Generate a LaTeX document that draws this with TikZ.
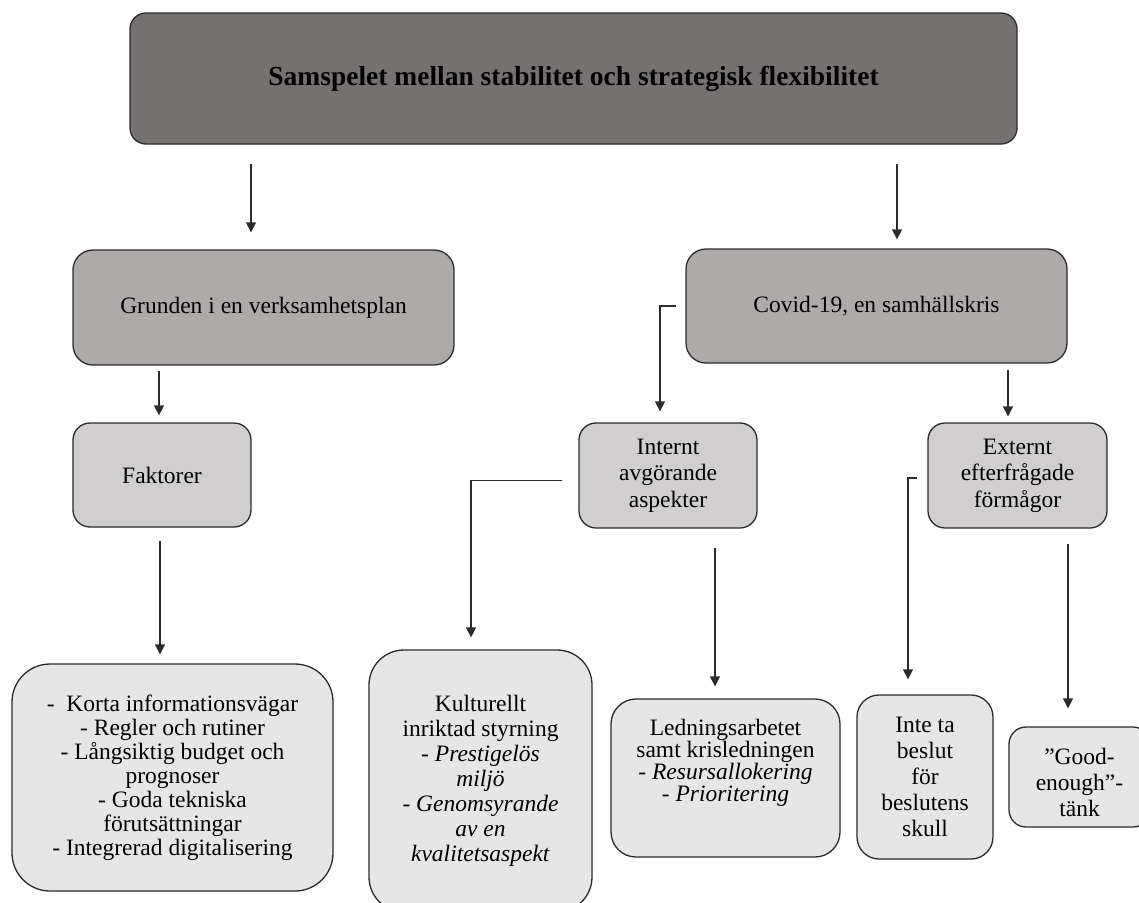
\documentclass[tikz,border=0pt]{standalone}
\usepackage{fontspec}
\setmainfont{Liberation Serif}
\usetikzlibrary{arrows.meta}
\definecolor{cone}{HTML}{767171}
\definecolor{ctwo}{HTML}{AEAAAA}
\definecolor{cthree}{HTML}{D0CECE}
\definecolor{cfour}{HTML}{E7E6E6}
\definecolor{edge}{HTML}{2B2B2B}
\begin{document}
\begin{tikzpicture}[x=1pt,y=-1pt,
  box/.style={draw=edge, line width=1.3pt, rectangle, align=center, inner sep=2pt, text=black},
  fs/.style={font=\fontsize{23.5}{#1}\selectfont},
  arr/.style={draw=edge, line width=1.3pt, -{Triangle[width=10pt,length=10pt]}},
]
\useasboundingbox (0,0) rectangle (1139,902);
\node[box, fill=cone, rounded corners=16pt, minimum width=887pt, minimum height=131pt, font=\bfseries\fontsize{27.5}{32}\selectfont] (top) at (573.5,78.5) {Samspelet mellan stabilitet och strategisk flexibilitet};
\node[box, fill=ctwo, rounded corners=20pt, minimum width=381pt, minimum height=115pt, fs=28] (grunden) at (263.5,307.5) {Grunden i en verksamhetsplan};
\node[box, fill=ctwo, rounded corners=20pt, minimum width=381pt, minimum height=114pt, fs=28] (covid) at (876.5,306) {Covid-19, en samhällskris};
\node[box, fill=cthree, rounded corners=17pt, minimum width=178pt, minimum height=104pt, fs=28] (faktorer) at (162,475) {Faktorer};
\node[box, fill=cthree, rounded corners=17pt, minimum width=178pt, minimum height=105pt, fs=26.5] (internt) at (668,475.5) {Internt\\ avgörande\\ aspekter};
\node[box, fill=cthree, rounded corners=17pt, minimum width=179pt, minimum height=105pt, fs=26.5] (externt) at (1017.5,475.5) {Externt\\ efterfrågade\\ förmågor};
\node[box, fill=cfour, rounded corners=38pt, minimum width=321pt, minimum height=227pt, fs=24] (list) at (172.5,777.5) {-~ Korta informationsvägar\\ - Regler och rutiner\\ - Långsiktig budget och\\ prognoser\\ - Goda tekniska\\ förutsättningar\\ - Integrerad digitalisering};
\node[box, fill=cfour, rounded corners=35pt, minimum width=223pt, minimum height=262pt, fs=25] (kult) at (480.5,781) {Kulturellt\\ inriktad styrning\\ \textit{- Prestigelös}\\ \textit{miljö}\\ \textit{- Genomsyrande}\\ \textit{av en}\\ \textit{kvalitetsaspekt}};
\node[box, fill=cfour, rounded corners=25pt, minimum width=229pt, minimum height=158pt, fs=22] (ledning) at (725.5,778) {Ledningsarbetet\\ samt krisledningen\\ \textit{- Resursallokering}\\ \textit{- Prioritering}\\[14pt]\mbox{}};
\node[box, fill=cfour, rounded corners=22pt, minimum width=136pt, minimum height=164pt, fs=26] (inte) at (925,777) {Inte ta\\ beslut\\ för\\ beslutens\\ skull};
\node[box, fill=cfour, rounded corners=17pt, minimum width=141pt, minimum height=100pt, fs=26] (good) at (1079.5,777) {\rule{0pt}{27pt}”Good-\\ enough”-\\ tänk};
\coordinate (xa) at (251,0);
\coordinate (xb) at (897,0);
\coordinate (xc) at (159,0);
\coordinate (xd) at (160,0);
\coordinate (xe) at (660,0);
\coordinate (xf) at (1008,0);
\coordinate (xg) at (471,0);
\coordinate (xh) at (715,0);
\coordinate (xi) at (908,0);
\coordinate (xj) at (1068,0);
\draw[arr, shorten <=19pt, shorten >=17pt] (top.south -| xa) -- (grunden.north -| xa);
\draw[arr, shorten <=19pt, shorten >=9pt] (top.south -| xb) -- (covid.north -| xb);
\draw[arr, shorten <=5pt, shorten >=7pt] (grunden.south -| xc) -- (faktorer.north -| xc);
\draw[arr, shorten <=13pt, shorten >=9pt] (faktorer.south -| xd) -- (list.north -| xd);
\draw[arr, shorten >=11pt] ([xshift=-9pt]covid.west) -| (internt.north -| xe);
\draw[arr, shorten <=6pt, shorten >=6pt] (covid.south -| xf) -- (externt.north -| xf);
\draw[arr, shorten >=12pt] ([xshift=-16pt,yshift=-5pt]internt.west) -| (kult.north -| xg);
\draw[arr, shorten <=19pt, shorten >=12pt] (internt.south -| xh) -- (ledning.north -| xh);
\draw[arr, shorten >=15pt] ([xshift=-10pt,yshift=-2.5pt]externt.west) -| (inte.north -| xi);
\draw[arr, shorten <=15pt, shorten >=18pt] (externt.south -| xj) -- (good.north -| xj);
\end{tikzpicture}
\end{document}
